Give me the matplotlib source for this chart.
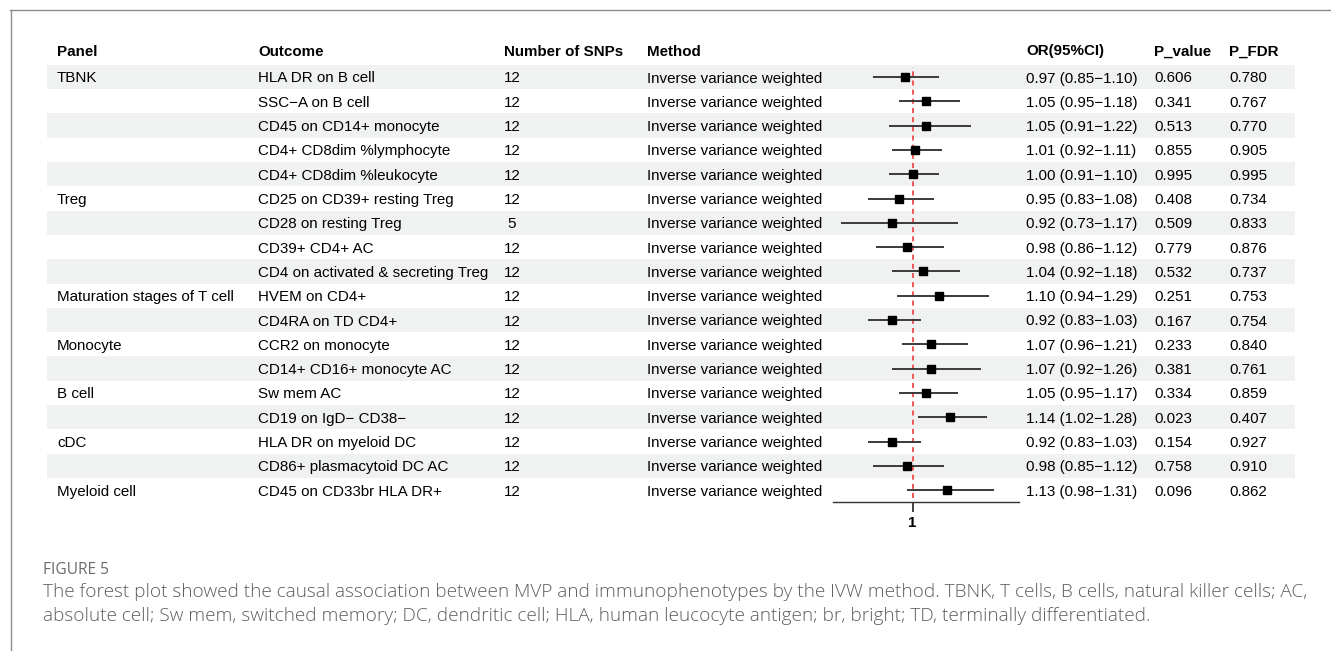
import matplotlib
matplotlib.use("Agg")
import matplotlib.pyplot as plt

panels = ["TBNK", "", "", "", "", "Treg", "", "", "", "Maturation stages of T cell", "",
          "Monocyte", "", "B cell", "", "cDC", "", "Myeloid cell"]
outcomes = ["HLA DR on B cell", "SSC\u2212A on B cell", "CD45 on CD14+ monocyte",
            "CD4+ CD8dim %lymphocyte", "CD4+ CD8dim %leukocyte", "CD25 on CD39+ resting Treg",
            "CD28 on resting Treg", "CD39+ CD4+ AC", "CD4 on activated & secreting Treg",
            "HVEM on CD4+", "CD4RA on TD CD4+", "CCR2 on monocyte", "CD14+ CD16+ monocyte AC",
            "Sw mem AC", "CD19 on IgD\u2212 CD38\u2212", "HLA DR on myeloid DC",
            "CD86+ plasmacytoid DC AC", "CD45 on CD33br HLA DR+"]
n_snps = [12, 12, 12, 12, 12, 12, 5, 12, 12, 12, 12, 12, 12, 12, 12, 12, 12, 12]
method = ["Inverse variance weighted"] * 18
or_est = [0.97, 1.05, 1.05, 1.01, 1.00, 0.95, 0.92, 0.98, 1.04, 1.10, 0.92, 1.07, 1.07, 1.05, 1.14, 0.92, 0.98, 1.13]
or_lo = [0.85, 0.95, 0.91, 0.92, 0.91, 0.83, 0.73, 0.86, 0.92, 0.94, 0.83, 0.96, 0.92, 0.95, 1.02, 0.83, 0.85, 0.98]
or_hi = [1.10, 1.18, 1.22, 1.11, 1.10, 1.08, 1.17, 1.12, 1.18, 1.29, 1.03, 1.21, 1.26, 1.17, 1.28, 1.03, 1.12, 1.31]
p_value = ["0.606", "0.341", "0.513", "0.855", "0.995", "0.408", "0.509", "0.779", "0.532", "0.251",
           "0.167", "0.233", "0.381", "0.334", "0.023", "0.154", "0.758", "0.096"]
p_fdr = ["0.780", "0.767", "0.770", "0.905", "0.995", "0.734", "0.833", "0.876", "0.737", "0.753",
         "0.754", "0.840", "0.761", "0.859", "0.407", "0.927", "0.910", "0.862"]
headers = ["Panel", "Outcome", "Number of SNPs", "Method", "OR(95%CI)", "P_value", "P_FDR"]
x_ticks = [1]
x_range = (0.698, 1.403)

W, H = 1331, 651
fig = plt.figure(figsize=(W / 100, H / 100), dpi=100)
bg = fig.add_axes([0, 0, 1, 1])
bg.set_xlim(0, W)
bg.set_ylim(H, 0)
bg.axis("off")

FONT = "Liberation Sans"
FS = 10.9
row0, dy = 77.0, 24.3
n = len(outcomes)
toff = 1.5  # text vertical offset

# border
bg.plot([10, W], [9.5, 9.5], color="#8c8c8c", lw=1.0)
bg.plot([10.5, 10.5], [9.5, H], color="#8c8c8c", lw=1.0)

# stripes
for i in range(n):
    y = row0 + i * dy
    if i % 2 == 0:
        bg.add_patch(plt.Rectangle((47, y - dy / 2), 1295 - 47, dy, color="#eff2f0", lw=0, zorder=0))

col_x = [57, 258, 504, 647, 1026, 1154, 1229]
for cx, h in zip(col_x, headers):
    bg.text(cx, 50 + toff, h, fontsize=FS, fontweight="bold", family=FONT, va="center", ha="left")

for i in range(n):
    y = row0 + i * dy + toff
    bg.text(col_x[0], y, panels[i], fontsize=FS, family=FONT, va="center")
    bg.text(col_x[1], y, outcomes[i], fontsize=FS, family=FONT, va="center")
    bg.text(512, y, str(n_snps[i]), fontsize=FS, family=FONT, va="center", ha="center")
    bg.text(col_x[3], y, method[i], fontsize=FS, family=FONT, va="center")
    bg.text(col_x[4], y, f"{or_est[i]:.2f} ({or_lo[i]:.2f}\u2212{or_hi[i]:.2f})", fontsize=FS, family=FONT, va="center")
    bg.text(col_x[5], y, p_value[i], fontsize=FS, family=FONT, va="center")
    bg.text(col_x[6], y, p_fdr[i], fontsize=FS, family=FONT, va="center")

# forest axes
top_px = row0 - dy / 2
bot_px = 502.0
left_px, right_px = 833.0, 1019.0
ax = fig.add_axes([left_px / W, 1 - bot_px / H, (right_px - left_px) / W, (bot_px - top_px) / H])
ax.patch.set_alpha(0)
ax.set_xlim(*x_range)
ax.set_ylim(n - 0.5 + (bot_px - (row0 + (n - 0.5) * dy)) / dy, -0.5)
for s in ["top", "right", "left"]:
    ax.spines[s].set_visible(False)
ax.spines["bottom"].set_color("#333333")
ax.spines["bottom"].set_linewidth(1.0)
ax.set_yticks([])
ax.set_xticks(x_ticks)
ax.set_xticklabels([str(t) for t in x_ticks], fontweight="bold", fontsize=FS, family=FONT)
ax.tick_params(axis="x", length=7, width=1.3, color="#333333", pad=3)

ax.axvline(1, ymin=0.01, ymax=0.995, color="#f03c3c", ls=(0, (3, 2.5)), lw=1.2, zorder=1)
ys = list(range(n))
ax.hlines(ys, or_lo, or_hi, color="#3a3a3a", lw=1.4, zorder=2)
ax.plot(or_est, ys, ls="none", marker="s", ms=5.4, color="black", zorder=3)

# caption
bg.text(43, 570, "FIGURE 5", fontsize=11.2, family="Open Sans", color="#6b6b6b", va="center")
cap1 = ("The forest plot showed the causal association between MVP and immunophenotypes by the IVW method. "
        "TBNK, T cells, B cells, natural killer cells; AC,")
cap2 = ("absolute cell; Sw mem, switched memory; DC, dendritic cell; HLA, human leucocyte antigen; "
        "br, bright; TD, terminally differentiated.")
bg.text(43, 592, cap1, fontsize=13.7, family="Open Sans", color="#5e5e5e", va="center", fontweight="light")
bg.text(43, 616, cap2, fontsize=13.7, family="Open Sans", color="#5e5e5e", va="center", fontweight="light")

fig.savefig("out.png", dpi=100)
